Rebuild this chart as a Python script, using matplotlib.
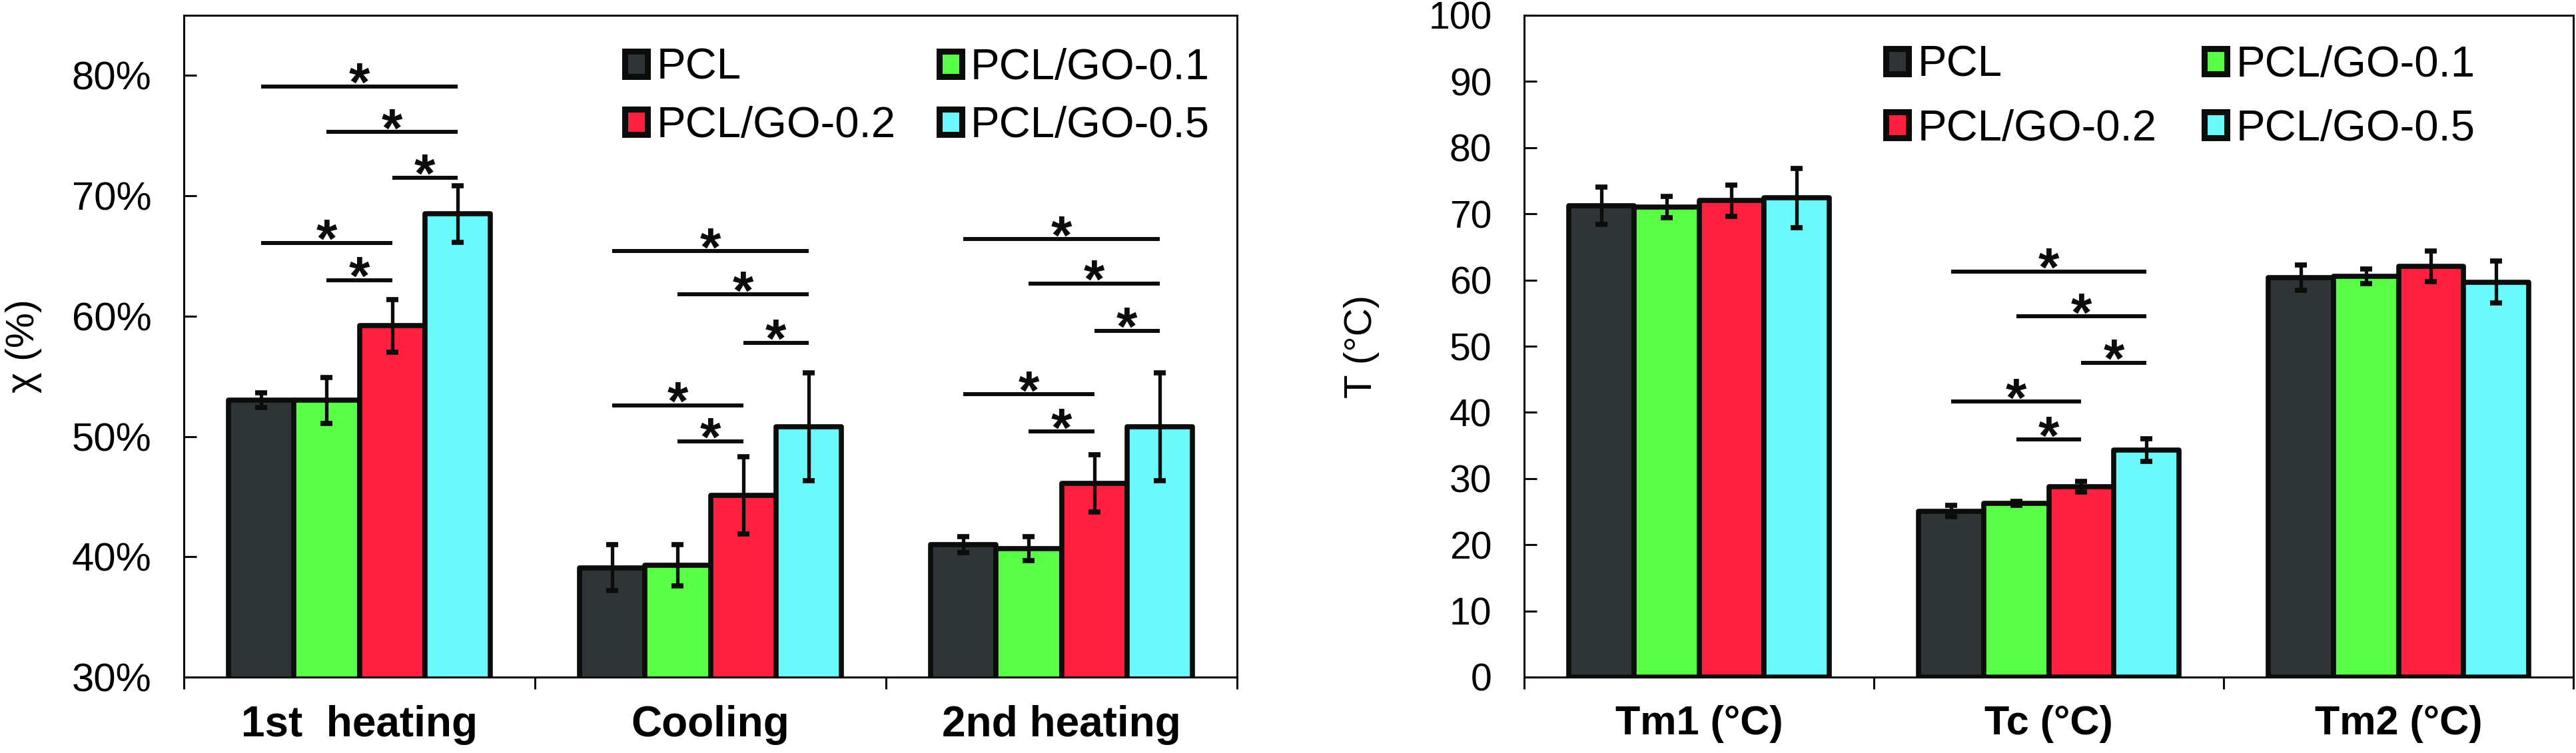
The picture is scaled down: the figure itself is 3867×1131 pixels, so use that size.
import numpy as np
import matplotlib.pyplot as plt
from matplotlib.patches import Patch
from matplotlib.ticker import PercentFormatter, MultipleLocator

# series (same order in both panels)
names = ['PCL', 'PCL/GO-0.1', 'PCL/GO-0.2', 'PCL/GO-0.5']
colors = ['#2f3436', '#59ff47', '#ff1f3f', '#6bf9fc']
edge = '#0b0d0b'

# crystallinity panel, values in %
chi_groups = ['1st  heating', 'Cooling', '2nd heating']
chi_mean = [[53.0, 39.1, 41.0],
            [53.0, 39.3, 40.7],
            [59.2, 45.1, 46.1],
            [68.5, 50.8, 50.8]]
chi_err = [[0.6, 1.9, 0.65],
           [1.9, 1.7, 1.0],
           [2.2, 3.2, 2.4],
           [2.35, 4.5, 4.5]]
chi_sig = [[79.1, 75.3, 71.5, 66.1, 63.0],
           [65.4, 61.8, 57.8, 52.6, 49.6],
           [66.4, 62.7, 58.8, 53.5, 50.4]]

# temperature panel, °C
t_groups = ['Tm1 (°C)', 'Tc (°C)', 'Tm2 (°C)']
t_mean = [[71.2, 25.1, 60.4],
          [71.0, 26.3, 60.6],
          [72.0, 28.8, 62.1],
          [72.4, 34.3, 59.7]]
t_err = [[2.8, 0.9, 1.9],
         [1.6, 0.3, 1.1],
         [2.35, 0.8, 2.3],
         [4.45, 1.7, 3.2]]
t_sig = [None, [61.3, 54.5, 47.5, 41.6, 35.9], None]

# which bars each significance line joins (top line first)
sig_pairs = [(0, 3), (1, 3), (2, 3), (0, 2), (1, 2)]

W, H = 3867, 1131
bw = 0.186
fam = ['Liberation Sans', 'DejaVu Sans']


def draw_panel(ax, groups, mean, err, sig, fs_tick, fs_xlab, leg_xy, lspace, cspace):
    x = np.arange(len(groups))
    for i in range(len(names)):
        xi = x + (i - 1.5) * bw
        ax.bar(xi, mean[i], bw, color=colors[i], edgecolor=edge,
               linewidth=5.5, joinstyle='round', zorder=2)
        ax.errorbar(xi, mean[i], yerr=err[i], fmt='none', ecolor=edge,
                    elinewidth=3.8, capsize=6.5, capthick=5.5, zorder=3)
    for g, levels in enumerate(sig):
        if levels is None:
            continue
        for (a, b), y in zip(sig_pairs, levels):
            xa = g + (a - 1.5) * bw
            xb = g + (b - 1.5) * bw
            ax.plot([xa, xb], [y, y], color=edge, lw=4.3,
                    solid_capstyle='butt', zorder=3)
            ax.text((xa + xb) / 2, y, '*', ha='center', va='center',
                    fontsize=58, fontweight='bold', family=fam, color=edge)

    ax.set_xlim(-0.5, len(groups) - 0.5)
    ax.set_xticks(np.arange(len(groups) + 1) - 0.5)
    ax.set_xticklabels([])
    ax.set_xticks(x, minor=True)
    ax.set_xticklabels(groups, minor=True, fontsize=fs_xlab,
                       fontweight='bold', family=fam)
    ax.tick_params(axis='x', which='major', direction='out', length=13,
                   width=2.2, color=edge)
    ax.tick_params(axis='x', which='minor', length=0, pad=30)
    ax.tick_params(axis='y', direction='in', length=14, width=2.2,
                   color=edge, pad=35, labelsize=fs_tick)
    for s in ax.spines.values():
        s.set_linewidth(2.2)
        s.set_color(edge)

    handles = [Patch(facecolor=colors[i], edgecolor=edge, linewidth=6.5,
                     joinstyle='round') for i in range(len(names))]
    order = [0, 2, 1, 3]
    ax.legend([handles[k] for k in order], [names[k] for k in order],
              ncol=2, loc='upper left', bbox_to_anchor=leg_xy,
              frameon=False, prop={'family': fam, 'size': 47},
              handlelength=0.52, handleheight=0.52, handletextpad=0.2,
              columnspacing=cspace, labelspacing=lspace, borderpad=0,
              borderaxespad=0)


fig = plt.figure(figsize=(W / 100, H / 100), dpi=100)
ax1 = fig.add_axes([276 / W, 1 - 1017 / H, (1857 - 276) / W, 994 / H])
ax2 = fig.add_axes([2288 / W, 1 - 1017 / H, (3863 - 2288) / W, 994 / H])

draw_panel(ax1, chi_groups, chi_mean, chi_err, chi_sig, 43, 46,
           (0.419, 0.951), 0.42, 1.0)
ax1.set_ylim(30, 85)
ax1.yaxis.set_major_locator(MultipleLocator(10))
ax1.yaxis.set_major_formatter(PercentFormatter(decimals=0))
for lab in ax1.get_yticklabels():
    lab.set_family(fam)
ax1.set_ylabel('χ (%)', fontsize=43, family=fam)
ax1.yaxis.set_label_coords(-0.135, 0.5)

draw_panel(ax2, t_groups, t_mean, t_err, t_sig, 41, 44,
           (0.345, 0.955), 0.55, 1.1)
ax2.set_ylim(0, 100)
ax2.yaxis.set_major_locator(MultipleLocator(10))
for lab in ax2.get_yticklabels():
    lab.set_family(fam)
ax2.set_ylabel('T (°C)', fontsize=42, family=fam)
ax2.yaxis.set_label_coords(-0.138, 0.5)

fig.savefig('out.png', dpi=100, facecolor='white')
